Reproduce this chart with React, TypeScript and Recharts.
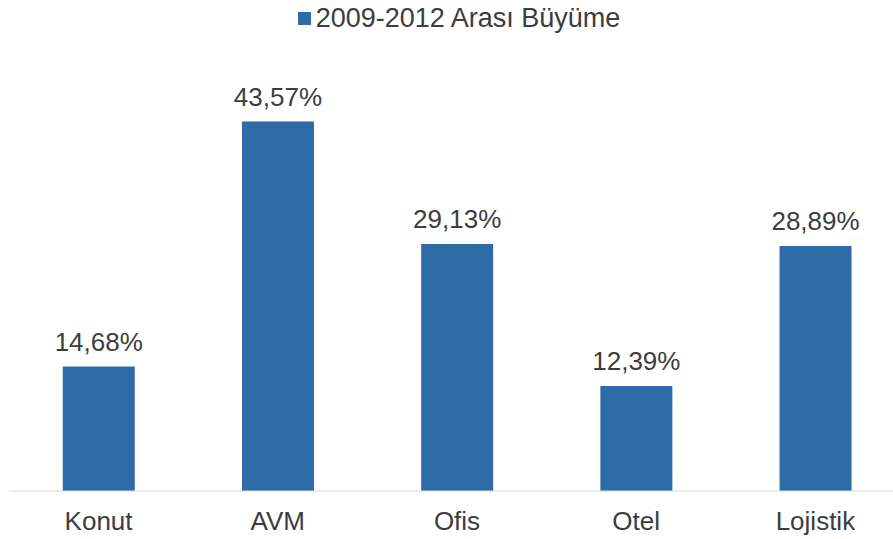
import { BarChart, Bar, XAxis, YAxis, Legend, LabelList } from 'recharts'

const categories = ['Konut', 'AVM', 'Ofis', 'Otel', 'Lojistik']
const growth = [14.68, 43.57, 29.13, 12.39, 28.89]
const seriesName = '2009-2012 Arası Büyüme'

const data = categories.map((name, i) => ({ name, value: growth[i] }))

const textColor = '#3d3d3d'
const barColor = '#2E6CA8'
const fontFamily = '"Liberation Sans", Arial, sans-serif'

// legend kutusu sabit yükseklikte, çizim alanı onun altından başlar
function TopLegend() {
  return (
    <div style={{ height: 63, display: 'flex', justifyContent: 'center' }}>
      <div style={{ display: 'flex', alignItems: 'center', height: 28, fontFamily, fontSize: 27, color: textColor, marginLeft: 4 }}>
        <span style={{ width: 13, height: 13, background: barColor, marginRight: 5, display: 'inline-block' }} />
        {seriesName}
      </div>
    </div>
  )
}

export default function App() {
  return (
    <div>
      <style>{'body{margin:0;overflow:hidden;background:#fff}'}</style>
      <BarChart
        width={905}
        height={539}
        data={data}
        margin={{ top: 4, right: 0, left: 9, bottom: 8 }}
        barCategoryGap="30%"
      >
        <Legend verticalAlign="top" align="center" content={() => <TopLegend />} />
        <XAxis
          dataKey="name"
          height={40}
          tickLine={false}
          tickSize={0}
          tickMargin={21}
          stroke="#d9d9d9"
          tick={{ fill: textColor, fontSize: 26, fontFamily }}
        />
        <YAxis hide domain={[0, 50]} />
        <Bar dataKey="value" name={seriesName} fill={barColor} isAnimationActive={false}>
          <LabelList
            dataKey="value"
            position="top"
            offset={16}
            formatter={(v: any) => `${Number(v).toFixed(2).replace('.', ',')}%`}
            style={{ fill: textColor, fontSize: 26, fontFamily }}
          />
        </Bar>
      </BarChart>
    </div>
  )
}
